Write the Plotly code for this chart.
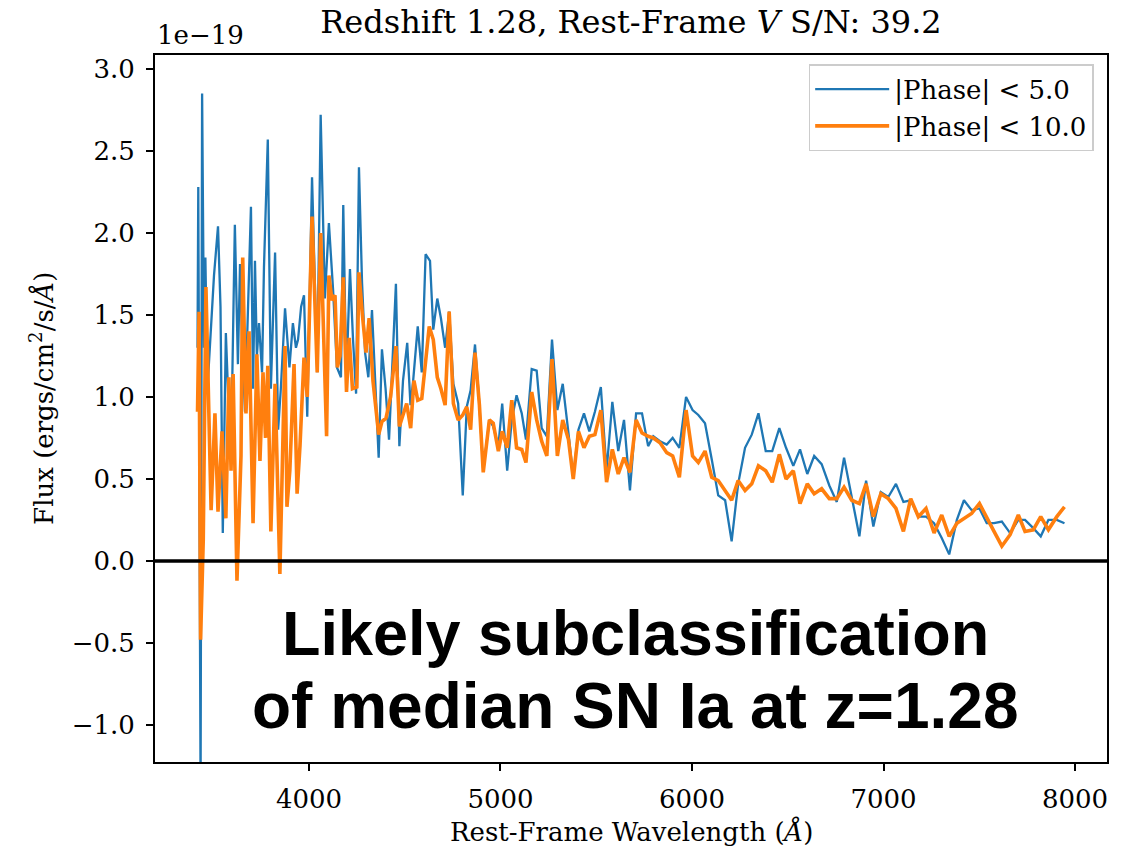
import plotly.graph_objects as go

# Rest-frame wavelength grid (Angstrom) and median fluxes (1e-19 erg/cm^2/s/A)
blue_wave = [
    3418, 3422, 3434, 3442, 3452, 3459, 3470, 3483, 3504, 3525,
    3538, 3550, 3566, 3580, 3593, 3613, 3629, 3640, 3653, 3666,
    3681, 3697, 3708, 3718, 3728, 3739, 3755, 3765, 3785, 3801,
    3823, 3839, 3853, 3875, 3898, 3916, 3932, 3943, 3959, 3974,
    3991, 4016, 4043, 4061, 4083, 4104, 4126, 4146, 4167, 4179,
    4195, 4214, 4230, 4246, 4261, 4277, 4293, 4310, 4329, 4350,
    4364, 4381, 4400, 4418, 4436, 4454, 4472, 4491, 4513, 4530,
    4544, 4568, 4589, 4609, 4632, 4649, 4670, 4689, 4711, 4732,
    4754, 4779, 4803, 4824, 4844, 4867, 4890, 4910, 4942, 4962,
    4989, 5009, 5035, 5059, 5084, 5111, 5133, 5163, 5189, 5215,
    5242, 5269, 5297, 5325, 5355, 5380, 5407, 5436, 5464, 5493,
    5524, 5554, 5584, 5615, 5645, 5676, 5708, 5739, 5771, 5798,
    5833, 5868, 5899, 5934, 5969, 6003, 6033, 6068, 6103, 6137,
    6173, 6207, 6241, 6277, 6312, 6347, 6385, 6419, 6456, 6491,
    6529, 6564, 6602, 6638, 6677, 6717, 6756, 6794, 6834, 6874,
    6909, 6947, 6986, 7025, 7065, 7104, 7142, 7182, 7222, 7264,
    7304, 7343, 7383, 7420, 7460, 7501, 7539, 7577, 7618, 7661,
    7704, 7739, 7782, 7821, 7861, 7905, 7945,
]
blue_flux = [
    1.30, 2.28, -1.40, 2.85, 1.30, 1.85, 1.05, 1.32, 1.74, 2.04,
    1.55, 0.17, 1.39, 0.95, 0.65, 2.05, 1.20, 1.81, 1.25, 0.91,
    1.55, 2.16, 1.05, 1.83, 1.25, 1.45, 1.15, 1.79, 2.57, 1.05,
    1.88, 0.80, 1.05, 1.54, 1.18, 1.45, 1.30, 1.35, 1.55, 1.62,
    0.88, 2.34, 1.15, 2.72, 1.60, 2.06, 1.65, 1.18, 1.12, 2.17,
    1.10, 1.78, 1.35, 1.02, 2.40, 1.70, 1.27, 1.12, 1.53, 0.95,
    0.63, 1.29, 1.05, 0.74, 1.25, 1.69, 0.70, 1.10, 1.33, 0.95,
    1.10, 1.43, 1.15, 1.87, 1.83, 1.41, 1.60, 1.48, 1.30, 1.52,
    1.08, 0.96, 0.40, 0.94, 1.04, 1.32, 0.95, 0.55, 0.86, 0.82,
    0.70, 0.96, 0.55, 0.86, 1.01, 0.90, 0.74, 1.17, 1.16, 0.81,
    0.76, 1.35, 0.92, 1.08, 0.78, 0.51, 0.80, 0.90, 0.79, 0.91,
    1.06, 0.55, 0.97, 0.67, 0.86, 0.43, 0.90, 0.90, 0.70, 0.76,
    0.73, 0.71, 0.75, 0.69, 1.00, 0.92, 0.89, 0.84, 0.62, 0.40,
    0.37, 0.12, 0.47, 0.69, 0.77, 0.90, 0.67, 0.67, 0.81, 0.69,
    0.58, 0.68, 0.53, 0.64, 0.59, 0.46, 0.36, 0.63, 0.39, 0.15,
    0.49, 0.21, 0.42, 0.39, 0.47, 0.36, 0.37, 0.27, 0.27, 0.23,
    0.14, 0.04, 0.25, 0.37, 0.31, 0.32, 0.23, 0.23, 0.24, 0.17,
    0.25, 0.25, 0.20, 0.15, 0.25, 0.25, 0.23,
]

orange_wave = [
    3418, 3426, 3434, 3448, 3462, 3475, 3489, 3509, 3525, 3546,
    3566, 3582, 3593, 3604, 3624, 3645, 3654, 3671, 3687, 3708,
    3728, 3744, 3760, 3773, 3785, 3801, 3823, 3848, 3875, 3885,
    3900, 3922, 3938, 3953, 3974, 3991, 4016, 4043, 4061, 4092,
    4104, 4120, 4136, 4148, 4162, 4179, 4196, 4210, 4227, 4250,
    4261, 4279, 4298, 4314, 4334, 4364, 4381, 4402, 4426, 4454,
    4472, 4510, 4531, 4548, 4568, 4589, 4628, 4649, 4670, 4689,
    4711, 4732, 4754, 4779, 4803, 4824, 4844, 4867, 4890, 4910,
    4942, 4962, 4989, 5009, 5035, 5059, 5084, 5111, 5133, 5163,
    5189, 5215, 5242, 5269, 5297, 5325, 5355, 5380, 5407, 5436,
    5464, 5493, 5524, 5554, 5584, 5615, 5645, 5676, 5708, 5739,
    5771, 5798, 5833, 5868, 5899, 5934, 5969, 6003, 6033, 6068,
    6103, 6137, 6173, 6207, 6241, 6277, 6312, 6347, 6385, 6419,
    6456, 6491, 6529, 6564, 6602, 6638, 6677, 6717, 6756, 6794,
    6834, 6874, 6909, 6947, 6986, 7025, 7065, 7104, 7142, 7182,
    7222, 7264, 7304, 7343, 7383, 7420, 7460, 7501, 7539, 7577,
    7618, 7661, 7704, 7739, 7782, 7821, 7861, 7905, 7945,
]
orange_flux = [
    0.91, 1.52, -0.48, 0.13, 1.67, 0.90, 0.31, 0.90, 0.30, 0.79,
    0.26, 1.12, 0.55, 1.14, -0.12, 0.64, 1.85, 0.90, 1.40, 0.23,
    1.26, 0.61, 1.15, 0.75, 1.19, 0.18, 1.08, -0.08, 1.31, 0.33,
    0.55, 1.20, 0.41, 0.70, 1.24, 1.00, 2.10, 1.15, 2.00, 0.76,
    1.74, 1.59, 1.62, 1.18, 1.25, 1.73, 1.03, 1.36, 1.05, 1.06,
    1.76, 1.50, 1.27, 1.48, 1.10, 0.77, 0.85, 0.87, 1.00, 1.31,
    0.82, 0.96, 0.81, 1.10, 0.98, 0.99, 1.43, 1.35, 1.12, 1.05,
    0.95, 1.52, 0.96, 0.86, 0.89, 0.94, 0.80, 1.27, 0.95, 0.54,
    0.86, 0.84, 0.67, 0.79, 0.69, 0.98, 0.69, 0.68, 0.60, 1.03,
    0.86, 0.73, 0.64, 1.23, 0.64, 0.86, 0.74, 0.50, 0.79, 0.69,
    0.76, 0.77, 0.92, 0.48, 0.68, 0.53, 0.63, 0.54, 0.86, 0.78,
    0.76, 0.75, 0.72, 0.66, 0.64, 0.51, 0.92, 0.64, 0.60, 0.67,
    0.51, 0.49, 0.43, 0.37, 0.49, 0.43, 0.47, 0.58, 0.55, 0.48,
    0.65, 0.50, 0.55, 0.35, 0.47, 0.41, 0.44, 0.38, 0.38, 0.45,
    0.37, 0.35, 0.47, 0.27, 0.41, 0.38, 0.32, 0.18, 0.38, 0.27,
    0.32, 0.17, 0.28, 0.15, 0.23, 0.26, 0.29, 0.35, 0.26, 0.18,
    0.09, 0.16, 0.28, 0.18, 0.19, 0.27, 0.19, 0.27, 0.33,
]

series_names = ["|Phase| &lt; 5.0", "|Phase| &lt; 10.0"]
x_ticks = [4000, 5000, 6000, 7000, 8000]
y_ticks = [-1.0, -0.5, 0.0, 0.5, 1.0, 1.5, 2.0, 2.5, 3.0]
y_tick_text = ["\u22121.0", "\u22120.5", "0.0", "0.5", "1.0", "1.5", "2.0", "2.5", "3.0"]

SERIF = "DejaVu Serif"
SANS = "Liberation Sans"

fig = go.Figure()
fig.add_trace(go.Scatter(
    x=blue_wave, y=blue_flux, mode="lines", name=series_names[0],
    line=dict(color="#1f77b4", width=2.3),
))
fig.add_trace(go.Scatter(
    x=orange_wave, y=orange_flux, mode="lines", name=series_names[1],
    line=dict(color="#ff7f0e", width=3.6),
))

axis_style = dict(
    showline=True, mirror=True, linecolor="black", linewidth=2,
    ticks="outside", ticklen=7, tickwidth=2, tickcolor="black",
    showgrid=False, zeroline=False,
    tickfont=dict(family=SERIF, size=26, color="black"),
)

fig.update_xaxes(range=[3196, 8167], tickvals=x_ticks, ticklabelstandoff=6, **axis_style)
fig.update_yaxes(range=[-1.226, 3.085], tickvals=y_ticks, ticktext=y_tick_text,
                 ticklabelstandoff=6, **axis_style)

# horizontal reference line at zero flux
fig.add_shape(type="line", xref="paper", x0=0, x1=1, yref="y", y0=0, y1=0,
              line=dict(color="black", width=3.5), layer="above")

annotations = [
    dict(text="1e\u221219", xref="paper", yref="paper", x=0.0, y=1.028,
         xanchor="left", yanchor="middle", showarrow=False,
         font=dict(family=SERIF, size=26, color="black")),
    dict(text="Rest-Frame Wavelength (<i>Å</i>)", xref="paper", yref="paper",
         x=0.5, y=-0.099, xanchor="center", yanchor="middle", showarrow=False,
         font=dict(family=SERIF, size=26, color="black")),
    dict(text="Flux (ergs/cm<sup>2</sup>/s/<i>Å</i>)", xref="paper", yref="paper",
         x=-0.1187, y=0.515, xanchor="center", yanchor="middle", textangle=-90,
         showarrow=False, font=dict(family=SERIF, size=26, color="black")),
    dict(text="<b>Likely subclassification</b>", xref="paper", yref="paper",
         x=0.505, y=0.183, xanchor="center", yanchor="middle", showarrow=False,
         font=dict(family=SANS, size=63, color="black")),
    dict(text="<b>of median SN Ia at z=1.28</b>", xref="paper", yref="paper",
         x=0.505, y=0.079, xanchor="center", yanchor="middle", showarrow=False,
         font=dict(family=SANS, size=64, color="black")),
]

fig.update_layout(
    width=1135, height=851,
    margin=dict(l=155, r=28, t=55, b=89),
    paper_bgcolor="white", plot_bgcolor="white",
    title=dict(text="Redshift 1.28, Rest-Frame <i>V</i> S/N: 39.2",
               x=0.5, xref="paper", y=0.974, yref="container",
               xanchor="center", yanchor="middle",
               font=dict(family=SERIF, size=32, color="black")),
    legend=dict(x=0.986, y=0.987, xanchor="right", yanchor="top",
                bgcolor="white", bordercolor="#cccccc", borderwidth=1.5,
                font=dict(family=SERIF, size=26, color="black"),
                itemwidth=74, tracegroupgap=3),
    annotations=annotations,
    showlegend=True,
)

fig.write_html("out.html")
